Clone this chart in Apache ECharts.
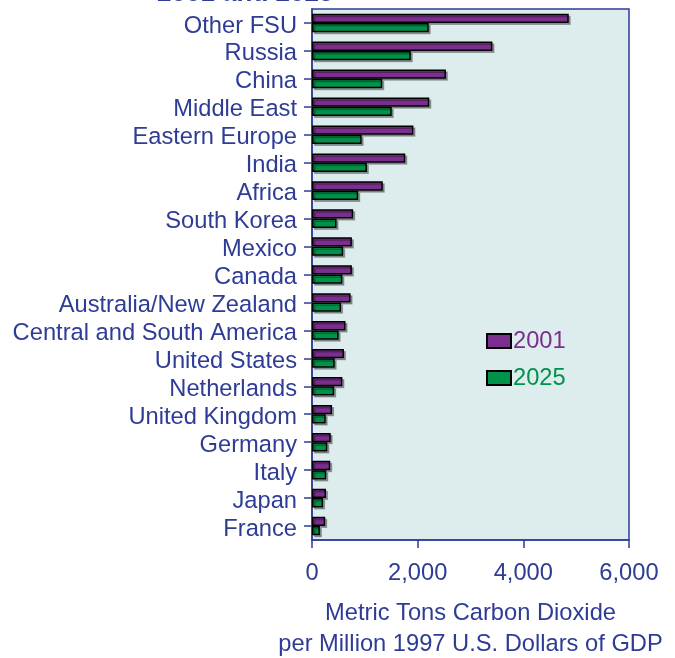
<!DOCTYPE html>
<html>
<head>
<meta charset="utf-8">
<script src="https://cdn.jsdelivr.net/npm/echarts@6/dist/echarts.min.js"></script>
<style>html,body{margin:0;padding:0;background:#fff}#c{width:675px;height:658px}</style>
</head>
<body>
<div id="c"></div>
<script>
const categories = ["Other FSU","Russia","China","Middle East","Eastern Europe","India","Africa","South Korea","Mexico","Canada","Australia/New Zealand","Central and South America","United States","Netherlands","United Kingdom","Germany","Italy","Japan","France"];
const values2001 = [4860,3415,2535,2220,1920,1765,1340,780,755,755,730,635,605,575,380,355,345,265,250];
const values2025 = [2210,1870,1330,1510,940,1040,875,465,590,575,550,505,430,420,260,290,270,210,150];
const xTicks = [0,2000,4000,6000];

const BLUE = '#2E3C96';
const FONT = '"Liberation Sans", Arial, sans-serif';
const FS = 23.7;
const chart = echarts.init(document.getElementById('c'));
const barStyle = (c) => ({color:c, borderColor:'#000', borderWidth:1.5, shadowColor:'rgba(0,0,0,0.3)', shadowOffsetX:2, shadowOffsetY:2, shadowBlur:0});
chart.setOption({
  animation:false,
  textStyle:{fontFamily:FONT},
  title:{text:'2001 and 2025', left:152, top:-24, textStyle:{color:BLUE, fontSize:26, fontWeight:'bold', fontFamily:FONT}},
  legend:{orient:'vertical', left:481, top:324, itemWidth:24, itemHeight:14, itemGap:13, icon:'rect',
    data:[{name:'2001', textStyle:{color:'#7B2E8E'}},{name:'2025', textStyle:{color:'#00924A'}}],
    textStyle:{fontSize:FS, fontFamily:FONT, padding:[0,0,0,-3]}},
  grid:{left:312, right:46, top:9, bottom:118, outerBoundsMode:'none', containLabel:false, show:true, backgroundColor:'#DDECEC', borderColor:BLUE, borderWidth:1.5},
  xAxis:{type:'value', min:0, max:6000, interval:2000,
    axisLine:{show:true, lineStyle:{color:BLUE, width:1.5}},
    axisTick:{show:true, length:8, lineStyle:{color:BLUE, width:1.5}},
    splitLine:{show:false},
    axisLabel:{color:BLUE, fontSize:FS, margin:21, formatter:v=>xTicks.includes(v)?v.toLocaleString('en-US'):''},
    name:'Metric Tons Carbon Dioxide\nper Million 1997 U.S. Dollars of GDP',
    nameLocation:'middle', nameGap:58,
    nameTextStyle:{color:BLUE, fontSize:FS, lineHeight:31, fontFamily:FONT}},
  yAxis:{type:'category', data:categories, inverse:true,
    axisLine:{show:true, lineStyle:{color:BLUE, width:1.5}},
    axisTick:{show:true, length:8, alignWithLabel:true, interval:0, lineStyle:{color:BLUE, width:1.5}},
    axisLabel:{color:BLUE, fontSize:FS, margin:15, interval:0,
      formatter:v=>'{a|'+v+'}',
      rich:{a:{color:BLUE, fontSize:FS, fontFamily:FONT, padding:[6,0,0,0]}}}},
  series:[
    {name:'2001', type:'bar', data:values2001, barWidth:9.3, barGap:'0%', itemStyle:barStyle('#7B2E8E')},
    {name:'2025', type:'bar', data:values2025, barWidth:9.3, barGap:'0%', itemStyle:barStyle('#00924A')}
  ]
});
</script>
</body>
</html>
